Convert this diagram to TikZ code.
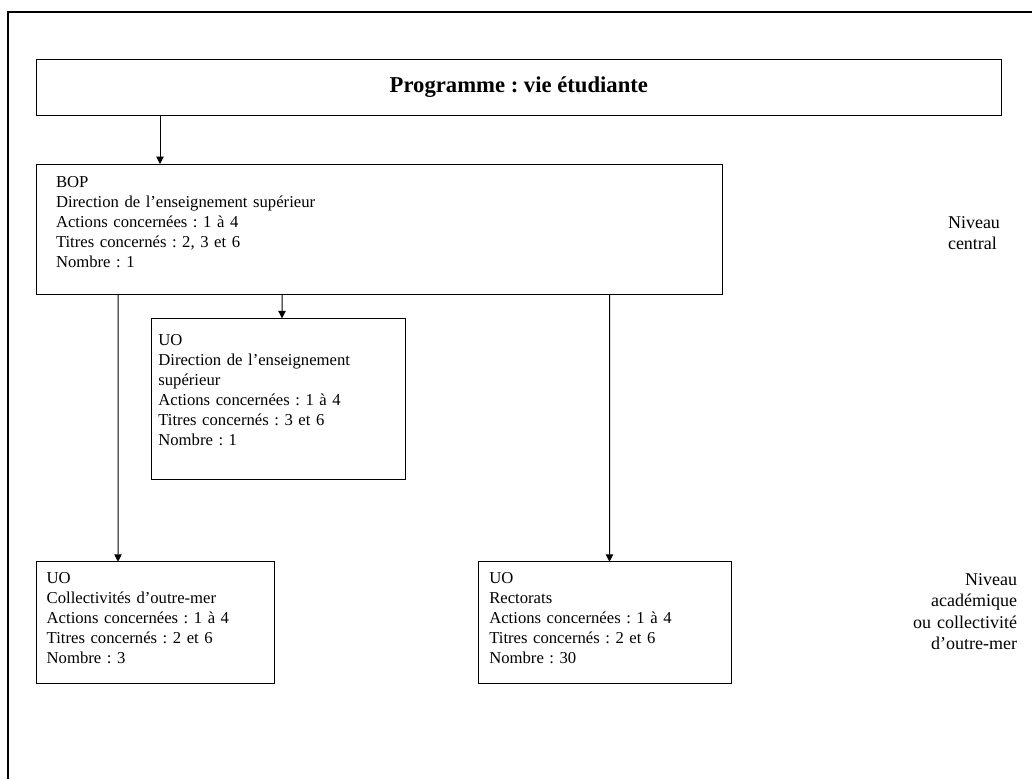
\documentclass[tikz,border=0pt]{standalone}
\usepackage{fontspec}
\setmainfont{Liberation Serif}
\usetikzlibrary{calc}
\usetikzlibrary{arrows.meta}

\begin{document}
\frenchspacing
\begin{tikzpicture}[x=0.75pt,y=-0.75pt,
  every node/.style={font=\fontsize{12.5}{15}\selectfont, inner sep=0pt, outer sep=0pt},
  boite/.style={draw, line width=0.75pt, anchor=north west, align=left},
  niveau/.style={font=\fontsize{13.5}{16.2}\selectfont, text width=110pt},
  fleche/.style={draw, line width=0.75pt, -{Triangle[length=5.5pt,width=5.5pt]}}]
\useasboundingbox (0,0) rectangle (1032,779);
\draw[line width=1.5pt] (1032,12) -- (8,12) -- (8,779);
\node[boite, align=center, minimum width=724.3pt, minimum height=42pt] (prog) at (36,59)
  {\fontsize{17}{20}\selectfont\bfseries Programme : vie étudiante};
\node[boite, text width=484.5pt, inner xsep=15pt, text height=17.25pt, text depth=80.25pt] (bop) at (36,164)
  {BOP\\Direction de l’enseignement supérieur\\Actions concernées : 1 à 4\\Titres concernés : 2, 3 et 6\\Nombre : 1};
\node[boite, text width=180.5pt, inner xsep=5pt, text height=20.25pt, text depth=101pt] (uo1) at (151.7,318.3)
  {UO\\Direction de l’enseignement\\supérieur\\Actions concernées : 1 à 4\\Titres concernés : 3 et 6\\Nombre : 1};
\node[boite, text width=163pt, inner xsep=7.5pt, text height=16.2pt, text depth=74.8pt] (uo2) at (36.7,561.7)
  {UO\\Collectivités d’outre-mer\\Actions concernées : 1 à 4\\Titres concernés : 2 et 6\\Nombre : 3};
\node[boite, text width=173.5pt, inner xsep=8.25pt, text height=16.2pt, text depth=74.8pt] (uo3) at (478.3,561.7)
  {UO\\Rectorats\\Actions concernées : 1 à 4\\Titres concernés : 2 et 6\\Nombre : 30};
\node[niveau, anchor=base west, align=left] (niv1) at (948,228) {Niveau\\central};
\node[niveau, anchor=base east, align=right] (niv2) at (1017,585)
  {Niveau\\académique\\ou collectivité\\d’outre-mer};
\draw[fleche] ($(prog.south west)+(124,0)$) -- ($(bop.north west)+(124,0)$);
\draw[fleche] ($(bop.south west)+(246,0)$) -- ($(uo1.north west)+(130.3,0)$);
\draw[fleche] ($(bop.south west)+(82,0)$) -- ($(uo2.north west)+(81.3,0)$);
\draw[fleche] ($(bop.south west)+(573.5,0)$) -- ($(uo3.north west)+(131.2,0)$);
\end{tikzpicture}
\end{document}
